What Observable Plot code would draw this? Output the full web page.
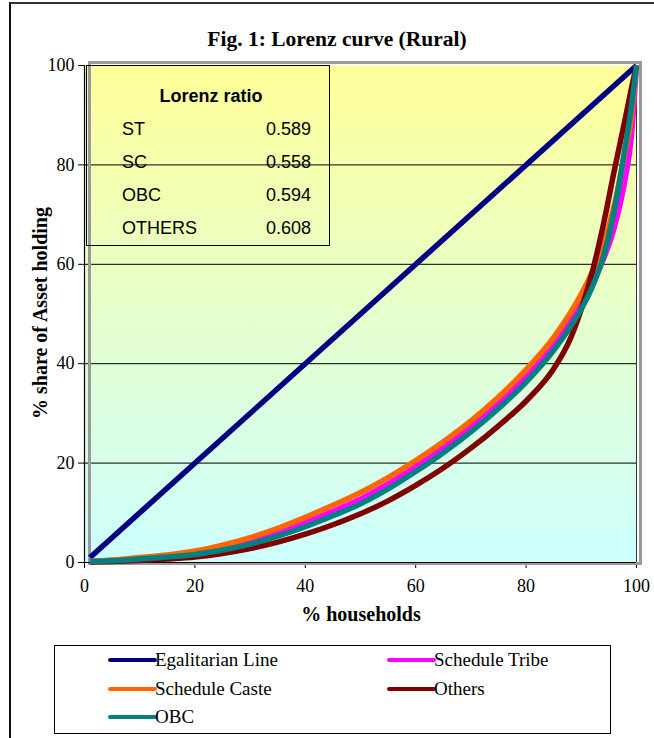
<!DOCTYPE html>
<html>
<head>
<meta charset="utf-8">
<script src="https://cdn.jsdelivr.net/npm/d3@7"></script>
<script src="https://cdn.jsdelivr.net/npm/@observablehq/plot@0.6"></script>
<style>
  body { margin: 0; background: #fff; }
  #wrap { position: relative; width: 654px; height: 738px; overflow: hidden; font-family: "Liberation Serif", "Times New Roman", serif; color: #000; }
  #outer { position: absolute; left: 9px; top: 2px; width: 700px; height: 800px; border-left: 2px solid #111; border-top: 2px solid #333; pointer-events: none; }
  #chart { position: absolute; left: 0; top: 0; }
  #title { position: absolute; top: 27px; left: 0; width: 674px; text-align: center; font-weight: bold; font-size: 21.5px; line-height: 24px; white-space: nowrap; }
  #ylab { position: absolute; left: 40px; top: 313px; transform: translate(-50%, -50%) rotate(-90deg); font-weight: bold; font-size: 20px; white-space: nowrap; line-height: 22px; }
  #xlab { position: absolute; left: 361px; top: 614px; transform: translate(-50%, -50%); font-weight: bold; font-size: 20px; white-space: nowrap; line-height: 22px; }
  #inset { position: absolute; left: 86px; top: 65px; width: 242px; height: 179px; border: 1.5px solid #000; font-family: "Liberation Sans", Arial, sans-serif; font-size: 18px; }
  #inset div { position: absolute; line-height: 18px; white-space: nowrap; }
  #legend { position: absolute; left: 54px; top: 645px; width: 555px; height: 87px; border: 1px solid #000; }
  .lg-line { position: absolute; height: 4px; border-radius: 2px; }
  .lg-text { position: absolute; font-size: 19px; line-height: 20px; white-space: nowrap; }
</style>
</head>
<body>
<div id="wrap">
  <div id="chart"></div>
  <div id="title"></div>
  <div id="ylab"></div>
  <div id="xlab"></div>
  <div id="inset"></div>
  <div id="legend"></div>
  <div id="outer"></div>
</div>
<script>
// ---- data ----
const titleText = "Fig. 1: Lorenz curve (Rural)";
const xLabel = "% households";
const yLabel = "% share of Asset holding";
const xTicks = [0, 20, 40, 60, 80, 100];
const yTicks = [0, 20, 40, 60, 80, 100];
const gridY = [20, 40, 60, 80];

const egalX = [1, 100];
const egalY = [1, 100];

const pctHouseholds = [1, 5, 10, 15, 20, 25, 30, 35, 40, 45, 50, 55, 60, 65, 70, 75, 80, 85, 88, 90, 92, 94, 96, 98, 99, 100];
const scheduleTribe = [0.2, 0.4, 0.8, 1.25, 1.9, 2.9, 4.3, 6.0, 8.0, 10.3, 12.8, 15.8, 19.3, 23.1, 27.3, 32.1, 37.5, 44.0, 48.8, 52.3, 56.2, 61, 67.5, 77.5, 85, 100];
const scheduleCaste = [0.2, 0.5, 1.0, 1.5, 2.3, 3.5, 5.0, 6.9, 9.1, 11.5, 14.1, 17.1, 20.5, 24.3, 28.5, 33.3, 38.8, 45.3, 50.2, 54.0, 58.5, 64, 72, 83, 89, 100];
const obc = [0.2, 0.35, 0.7, 1.1, 1.6, 2.5, 3.7, 5.3, 7.2, 9.4, 11.8, 14.8, 18.3, 22.1, 26.3, 31.0, 36.3, 42.7, 47.4, 51.0, 55.5, 61.5, 71, 84, 91, 100];
const others = [0.1, 0.2, 0.4, 0.7, 1.1, 1.8, 2.8, 4.1, 5.7, 7.6, 9.8, 12.4, 15.5, 19.0, 23.0, 27.5, 32.5, 39.0, 45.0, 51.0, 58.5, 68, 79, 89.5, 95, 100];

const seriesNames = ["Egalitarian Line", "Schedule Tribe", "Schedule Caste", "Others", "OBC"];
const seriesColors = ["#000080", "#FF00FF", "#FF6600", "#800000", "#008080"];

const ratioTitle = "Lorenz ratio";
const ratioLabels = ["ST", "SC", "OBC", "OTHERS"];
const ratioValues = ["0.589", "0.558", "0.594", "0.608"];

// ---- build tables ----
const egalitarian = egalX.map((x, i) => ({x, y: egalY[i]}));
const curveValues = [scheduleTribe, scheduleCaste, others, obc];
const curves = curveValues.map(vals => pctHouseholds.map((x, i) => ({x, y: vals[i]})));

const lineOpts = {x: "x", y: "y", strokeWidth: 5.5, curve: "monotone-x", strokeLinejoin: "round", strokeLinecap: "butt"};

const plot = Plot.plot({
  width: 654,
  height: 640,
  marginLeft: 84,
  marginRight: 18,
  marginTop: 65,
  marginBottom: 78,
  style: {background: "transparent", fontFamily: "'Liberation Serif', 'Times New Roman', serif", fontSize: "18px", color: "#000"},
  x: {domain: [0, 100], ticks: xTicks, tickSize: 6, tickPadding: 11, label: null, tickFormat: d => String(d)},
  y: {domain: [0, 100], ticks: yTicks, tickSize: 6, tickPadding: 4, label: null, tickFormat: d => String(d)},
  marks: [
    Plot.frame({fill: "url(#bgGrad)", stroke: "none"}),
    Plot.ruleY(gridY, {stroke: "#000", strokeWidth: 1}),
    Plot.frame({stroke: "#9a9a9a", strokeWidth: 3, insetLeft: 5, insetRight: -4, insetTop: -3, insetBottom: -1}),
    Plot.ruleX([100], {stroke: "#333", strokeWidth: 1}),
    Plot.ruleX([0], {stroke: "#000", strokeWidth: 1.2}),
    Plot.ruleY([0], {stroke: "#000", strokeWidth: 1.2}),
    Plot.line(egalitarian, {...lineOpts, stroke: seriesColors[0], curve: "linear"}),
    ...curves.map((c, i) => Plot.line(c, {...lineOpts, stroke: seriesColors[i + 1]}))
  ]
});

// gradient fill for the plot area
const defs = d3.select(plot).insert("defs", ":first-child");
const grad = defs.append("linearGradient").attr("id", "bgGrad").attr("x1", 0).attr("y1", 0).attr("x2", 0).attr("y2", 1);
grad.append("stop").attr("offset", "0%").attr("stop-color", "#FFFF99");
grad.append("stop").attr("offset", "100%").attr("stop-color", "#CCFFFF");

document.getElementById("chart").appendChild(plot);
document.getElementById("title").textContent = titleText;
document.getElementById("ylab").textContent = yLabel;
document.getElementById("xlab").textContent = xLabel;

// inset table
const inset = document.getElementById("inset");
const t = document.createElement("div");
t.textContent = ratioTitle;
t.style.cssText = "left:2px;width:244px;text-align:center;top:21px;font-weight:bold;";
inset.appendChild(t);
ratioLabels.forEach((lab, i) => {
  const top = 54 + i * 33;
  const a = document.createElement("div");
  a.textContent = lab;
  a.style.left = "35px"; a.style.top = top + "px";
  inset.appendChild(a);
  const b = document.createElement("div");
  b.textContent = ratioValues[i];
  b.style.right = "18px"; b.style.top = top + "px";
  inset.appendChild(b);
});

// legend (row-wise, two columns)
const legend = document.getElementById("legend");
seriesNames.forEach((name, i) => {
  const col = i % 2, row = Math.floor(i / 2);
  const lx = col === 0 ? 53 : 332;
  const cy = 14 + row * 28.5;
  const ln = document.createElement("div");
  ln.className = "lg-line";
  ln.style.left = lx + "px"; ln.style.width = "49px"; ln.style.top = (cy - 2) + "px";
  ln.style.background = seriesColors[i];
  legend.appendChild(ln);
  const tx = document.createElement("div");
  tx.className = "lg-text";
  tx.textContent = name;
  tx.style.left = (lx + 47) + "px"; tx.style.top = (cy - 10) + "px";
  legend.appendChild(tx);
});
</script>
</body>
</html>
